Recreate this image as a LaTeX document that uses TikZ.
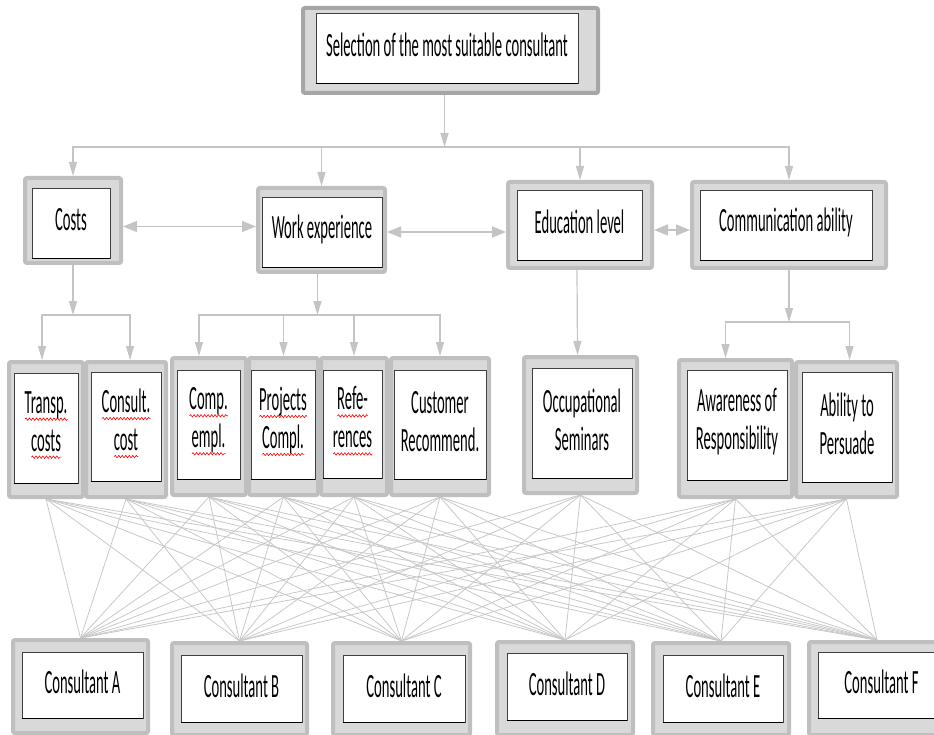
\documentclass[tikz,border=0pt]{standalone}
\usepackage{fontspec}
\setmainfont{Carlito}[FakeStretch=0.43]
\usetikzlibrary{arrows.meta,fit,backgrounds,decorations.pathmorphing}
\definecolor{frameEdge}{HTML}{BFBFBF}
\definecolor{frameFill}{HTML}{D9D9D9}
\definecolor{topEdge}{HTML}{A6A6A6}
\definecolor{linkColor}{HTML}{C4C4C4}
\definecolor{crossColor}{HTML}{C8C8C8}
\tikzstyle{diagram} = [x = 1pt, y = -1pt]
\tikzstyle{frameBox} = [draw=frameEdge, fill=frameFill, line width=4pt, rounded corners=2pt, inner sep=0pt]
\tikzstyle{innerBox} = [draw=black!75, fill=white, line width=0.8pt, inner sep=0pt]
\tikzstyle{innerBottom} = [black, line width=1.6pt]
\tikzstyle{boxText} = [inner sep=0pt, align=center, font=\fontsize{34}{38}\selectfont]
\tikzstyle{treeArrow} = [color=linkColor, line width=1.2pt, -{Triangle[length=14pt,width=8pt]}]
\tikzstyle{bothArrow} = [color=linkColor, line width=1.5pt, {Triangle[length=14pt,width=11pt]}-{Triangle[length=14pt,width=11pt]}]
\tikzstyle{crossLine} = [color=crossColor, line width=0.8pt]
\tikzstyle{waveLine} = [draw=red, fill=none, line width=0.6pt, rounded corners=0pt, decorate, decoration={snake, amplitude=1.2pt, segment length=3.5pt}]
\newlength{\waveWidth}
\newcommand{\spellWave}[1]{\settowidth{\waveWidth}{#1}\makebox[0pt][l]{\tikz[baseline=0pt, x=1pt, y=1pt] \draw [waveLine] (0,-6) -- (\waveWidth,-6);}#1}
\newcommand{\criterionBox}[4]{
  \node [frameBox, fit={#2}] (#1-f) {};
  \node [innerBox, fit={#3}] (#1) {};
  \draw [innerBottom] (#1.south west) -- (#1.south east);
  \node [boxText] (#1-t) at ([yshift=3pt]#1.center) {#4};
}
\begin{document}
\begin{tikzpicture}[diagram]
  \useasboundingbox (0,0) rectangle (934,735);

  % goal
  \node [frameBox, draw=topEdge, fit={(303,8) (598,93)}] (top-f) {};
  \node [innerBox, fit={(316,13) (578,83)}] (top) {};
  \draw [innerBottom] (top.south west) -- (top.south east);
  \node [boxText] (top-t) at ([yshift=3pt]top.center) {Selection of the most suitable consultant};

  % main criteria
  \criterionBox{costs}{(25,178) (121,263)}{(32,188) (110,258)}{Costs}
  \criterionBox{work}{(258,188) (385,272)}{(262,197) (382,267)}{Work experience}
  \criterionBox{edu}{(508,182) (652,268)}{(517,190) (642,260)}{Education level}
  \criterionBox{comm}{(692,182) (886,268)}{(700,190) (872,260)}{Communication ability}

  % sub criteria
  \criterionBox{transp}{(9,362) (83,497)}{(14,373) (78,483)}{\spellWave{Transp.}\\\spellWave{costs}}
  \criterionBox{consult}{(86,362) (166,497)}{(91,372) (161,481)}{\spellWave{Consult.}\\\spellWave{cost}}
  \criterionBox{comp}{(172,358) (246,495)}{(177,370) (240,479)}{\spellWave{Comp.}\\\spellWave{empl.}}
  \criterionBox{proj}{(249,358) (318,495)}{(251,370) (315,479)}{\spellWave{Projects}\\\spellWave{Compl.}}
  \criterionBox{refe}{(321,358) (387,495)}{(323,370) (382,478)}{\spellWave{Refe-}\\\spellWave{rences}}
  \criterionBox{cust}{(391,358) (489,495)}{(394,370) (486,479)}{Customer\\Recommend.}
  \criterionBox{occup}{(524,357) (637,493)}{(532,368) (632,478)}{Occupational\\Seminars}
  \criterionBox{aware}{(679,360) (792,497)}{(687,370) (787,480)}{Awareness of\\Responsibility}
  \criterionBox{ability}{(796,362) (897,497)}{(802,372) (892,482)}{Ability to\\Persuade}

  % alternatives
  \criterionBox{consA}{(13,640) (148,733)}{(22,652) (143,718)}{Consultant A}
  \criterionBox{consB}{(172,643) (307,735)}{(181,655) (302,722)}{Consultant B}
  \criterionBox{consC}{(333,643) (470,735)}{(343,655) (465,722)}{Consultant C}
  \criterionBox{consD}{(497,642) (633,735)}{(507,653) (627,720)}{Consultant D}
  \criterionBox{consE}{(653,643) (789,735)}{(663,655) (783,722)}{Consultant E}
  \criterionBox{consF}{(809,642) (945,735)}{(818,652) (945,718)}{Consultant F}

  % every sub criterion to every consultant
  \begin{scope}[on background layer]
    \foreach \src in {transp,consult,comp,proj,refe,cust,occup,aware,ability} {
      \foreach \dst in {consA,consB,consC,consD,consE,consF} {
        \draw [crossLine] (\src-f.south) -- (\dst-f.north);
      }
    }
  \end{scope}

  % hierarchy
  \coordinate (topJ) at ([xshift=-6pt,yshift=-52pt]top-f.south);
  \draw [treeArrow] (topJ |- top-f.south) -- (topJ);
  \foreach \crit in {costs,work,edu,comm}
    \draw [treeArrow] (topJ) -| (\crit-f.north);

  \coordinate (costsJ) at ([yshift=-50pt]costs-f.south);
  \draw [treeArrow] (costs-f.south) -- (costsJ);
  \draw [treeArrow] (costsJ) -| ([xshift=-4pt]transp-f.north);
  \draw [treeArrow] (costsJ) -| ([xshift=4pt]consult-f.north);

  \coordinate (workJ) at ([xshift=-4pt,yshift=-41pt]work-f.south);
  \draw [treeArrow] (work-f.south -| workJ) -- (workJ);
  \draw [treeArrow] (workJ) -| ([xshift=-10pt]comp-f.north);
  \draw [treeArrow] (workJ) -| (proj-f.north);
  \draw [treeArrow] (workJ) -| (refe-f.north);
  \draw [treeArrow] (workJ) -| (cust-f.north);

  \draw [treeArrow] ([xshift=-3pt]edu-f.south) -- ([xshift=-3pt]occup-f.north);

  \coordinate (commJ) at ([yshift=-52pt]comm-f.south);
  \draw [treeArrow] (comm-f.south) -- (commJ);
  \draw [treeArrow] (commJ) -| ([xshift=-10pt]aware-f.north);
  \draw [treeArrow] (commJ) -| ([xshift=3pt]ability-f.north);

  \coordinate (costsE) at ([yshift=-6pt]costs-f.east);
  \coordinate (workE) at ([yshift=-2pt]work-f.east);
  \draw [bothArrow] (costsE) -- (work-f.west |- costsE);
  \draw [bothArrow] (workE) -- (edu-f.west |- workE);
  \draw [bothArrow] ([yshift=-5pt]edu-f.east) -- ([yshift=-5pt]comm-f.west);
\end{tikzpicture}
\end{document}
